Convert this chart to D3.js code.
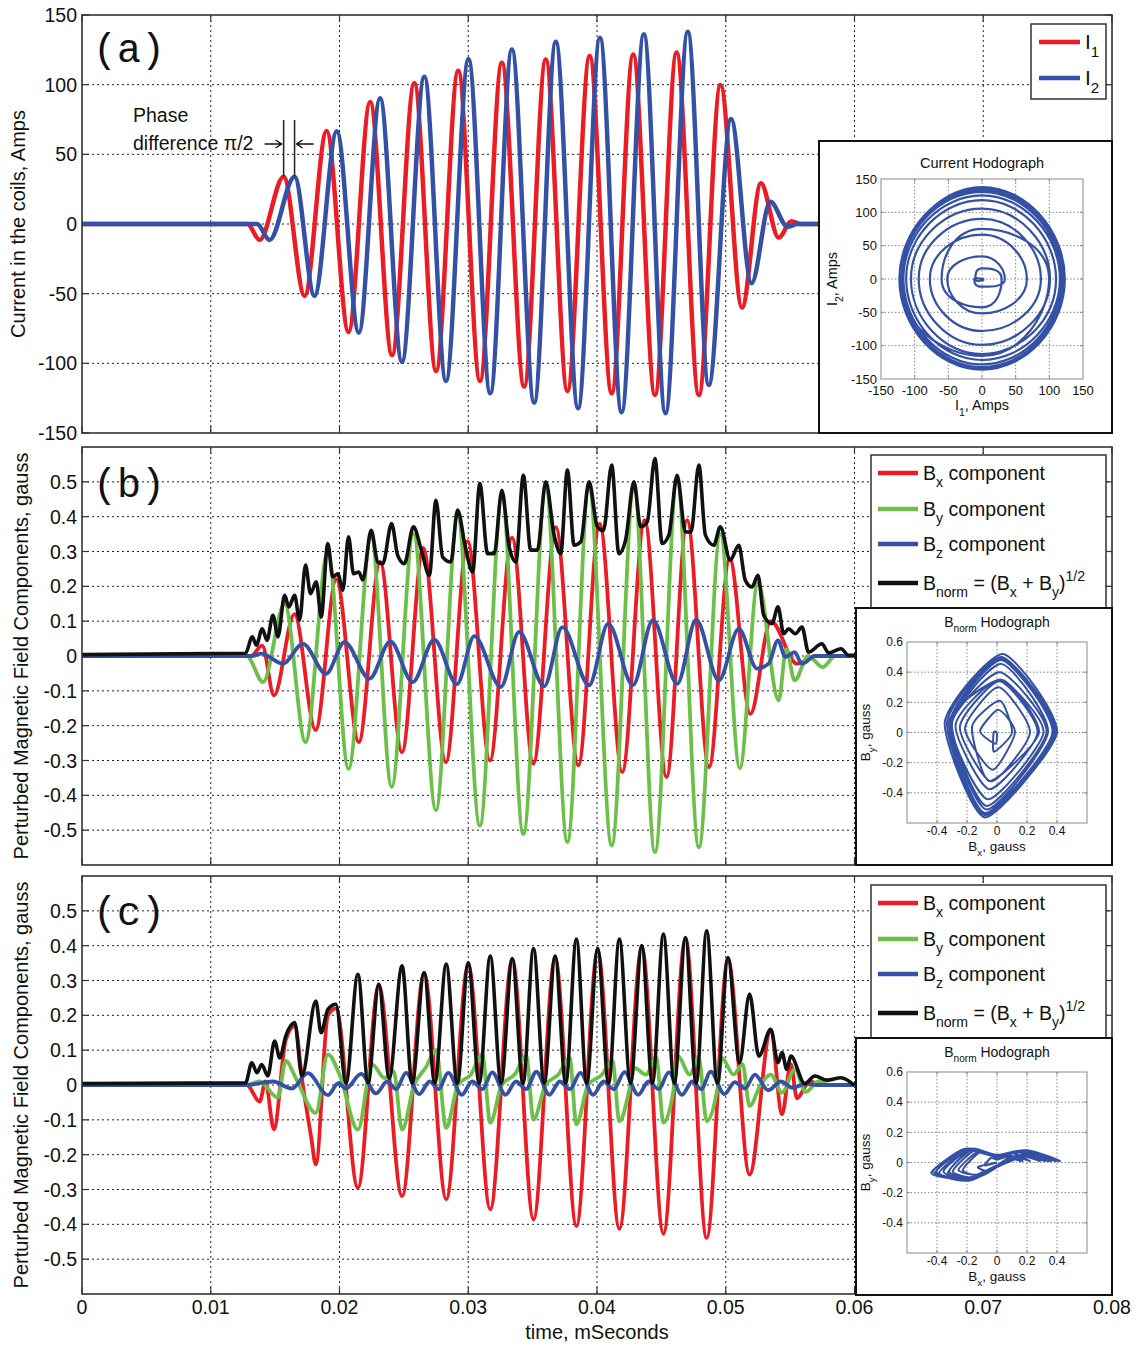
<!DOCTYPE html>
<html>
<head>
<meta charset="utf-8">
<script src="https://cdn.jsdelivr.net/npm/d3@7"></script>
<style>
  body { margin: 0; background: #fff; }
  svg { display: block; }
  text { font-family: "Liberation Sans", Arial, Helvetica, sans-serif; fill: #111; }
</style>
</head>
<body>
<svg id="chart" width="1141" height="1346"></svg>
<script>
// ---------- axis ticks ----------
const timeTicks = [0, 0.01, 0.02, 0.03, 0.04, 0.05, 0.06, 0.07, 0.08];
const timeTickLabels = ["0", "0.01", "0.02", "0.03", "0.04", "0.05", "0.06", "0.07", "0.08"];
const currentTicks = [-150, -100, -50, 0, 50, 100, 150];
const currentTickLabels = ["-150", "-100", "-50", "0", "50", "100", "150"];
const fieldTicks = [-0.5, -0.4, -0.3, -0.2, -0.1, 0, 0.1, 0.2, 0.3, 0.4, 0.5];
const fieldTickLabels = ["-0.5", "-0.4", "-0.3", "-0.2", "-0.1", "0", "0.1", "0.2", "0.3", "0.4", "0.5"];
const hodoCurrentTicks = [-150, -100, -50, 0, 50, 100, 150];
const hodoCurrentTickLabels = ["-150", "-100", "-50", "0", "50", "100", "150"];
const hodoFieldXTicks = [-0.4, -0.2, 0, 0.2, 0.4];
const hodoFieldXTickLabels = ["-0.4", "-0.2", "0", "0.2", "0.4"];
const hodoFieldYTicks = [-0.4, -0.2, 0, 0.2, 0.4, 0.6];
const hodoFieldYTickLabels = ["-0.4", "-0.2", "0", "0.2", "0.4", "0.6"];

// ---------- (a) coil currents: [time ms, Amps] at turning points ----------
const current1 = [
  [0, 0], [0.01285, 0], [0.0138, -11.5], [0.01566, 34], [0.01729, -51.6], [0.019, 66.7],
  [0.0207, -77.5], [0.02238, 87.5], [0.02408, -94], [0.02581, 101], [0.0275, -105.5],
  [0.02922, 110], [0.03091, -112.6], [0.03261, 115.7], [0.03434, -116.7], [0.03602, 118],
  [0.0377, -119.8], [0.03943, 120.5], [0.04114, -121.5], [0.04281, 121.7], [0.0445, -122.7],
  [0.04618, 123], [0.04791, -122.7], [0.04959, 99.7], [0.05126, -60], [0.05273, 29.2],
  [0.05411, -9.8], [0.0551, 2], [0.0558, 0], [0.066, 0]
];
const current2 = [
  [0, 0], [0.0136, 0], [0.01457, -11.5], [0.01651, 34], [0.01806, -51.6], [0.01979, 66.5],
  [0.0215, -78], [0.02315, 90.2], [0.02485, -98.8], [0.02659, 105.7], [0.02827, -112.6],
  [0.03002, 118.2], [0.03171, -121.5], [0.03339, 125.3], [0.03512, -128.2], [0.0368, 130.8],
  [0.03853, -132.2], [0.04023, 133.7], [0.04191, -135.1], [0.04364, 136.1], [0.04532, -135.8],
  [0.04705, 138], [0.04868, -115.5], [0.05041, 75.3], [0.052, -42.5], [0.05346, 16],
  [0.0548, -2], [0.0556, 0], [0.066, 0]
];
// first peaks of I1 and I2, marked by the phase annotation
const phasePeakTimes = [0.01566, 0.01651];
const phasePeakValue = 34;

// ---------- (b) perturbed field components, gauss ----------
const bxB = [
  [0, 0], [0.0131, 0], [0.014, 0.03], [0.01491, -0.113], [0.0165, 0.12], [0.01814, -0.213],
  [0.01975, 0.22], [0.0215, -0.247], [0.02315, 0.27], [0.02485, -0.276], [0.0265, 0.31],
  [0.02826, -0.305], [0.02995, 0.33], [0.03168, -0.3], [0.0334, 0.34], [0.03506, -0.309],
  [0.0368, 0.37], [0.03855, -0.314], [0.0402, 0.38], [0.04196, -0.333], [0.0437, 0.39],
  [0.0454, -0.348], [0.047, 0.39], [0.0487, -0.319], [0.0503, 0.28], [0.05191, -0.166],
  [0.0535, 0.1], [0.05553, -0.022], [0.057, 0], [0.06, 0]
];
const byB = [
  [0, 0], [0.0128, 0], [0.01406, -0.075], [0.01574, 0.15], [0.01736, -0.247], [0.01909, 0.3],
  [0.0207, -0.324], [0.02246, 0.34], [0.02405, -0.376], [0.02574, 0.35], [0.02749, -0.443],
  [0.02917, 0.4], [0.0309, -0.487], [0.03261, 0.455], [0.03428, -0.511], [0.03602, 0.48],
  [0.0377, -0.534], [0.03938, 0.48], [0.04114, -0.544], [0.04287, 0.48], [0.0445, -0.563],
  [0.04622, 0.5], [0.04791, -0.549], [0.04958, 0.35], [0.05109, -0.322], [0.0525, 0.21],
  [0.05411, -0.127], [0.0547, 0.02], [0.05535, -0.07], [0.0564, 0], [0.05752, -0.032],
  [0.0585, 0], [0.06, 0]
];
const bzB = [
  [0, 0], [0.0132, 0], [0.01393, 0.007], [0.0156, -0.022], [0.01716, 0.035], [0.01896, -0.051],
  [0.02039, 0.04], [0.02233, -0.065], [0.02395, 0.042], [0.02568, -0.075], [0.02736, 0.047],
  [0.02912, -0.081], [0.03047, 0.057], [0.03253, -0.089], [0.03395, 0.069], [0.0359, -0.087],
  [0.03731, 0.083], [0.03938, -0.084], [0.04087, 0.093], [0.04279, -0.084], [0.04434, 0.103],
  [0.04623, -0.08], [0.0477, 0.104], [0.04946, -0.07], [0.05101, 0.078], [0.05243, -0.036],
  [0.05333, -0.022], [0.05406, 0.045], [0.05463, -0.003], [0.05535, 0.011], [0.05592, -0.022],
  [0.05695, 0], [0.06, 0]
];
const bnormB = [
  [0, 0.004], [0.0127, 0.008], [0.01323, 0.055], [0.01354, 0.031], [0.014, 0.078], [0.01437, 0.045],
  [0.01483, 0.117], [0.01522, 0.055], [0.01574, 0.174], [0.01607, 0.141], [0.01651, 0.174],
  [0.0169, 0.103], [0.01736, 0.261], [0.01775, 0.179], [0.01819, 0.213], [0.01858, 0.112],
  [0.01909, 0.323], [0.01948, 0.227], [0.01987, 0.236], [0.02026, 0.189], [0.0207, 0.342],
  [0.02109, 0.236], [0.0215, 0.241], [0.02181, 0.218], [0.02246, 0.361], [0.02297, 0.27],
  [0.02336, 0.265], [0.02405, 0.38], [0.02452, 0.289], [0.02504, 0.265], [0.02574, 0.371],
  [0.02633, 0.308], [0.02698, 0.232], [0.02749, 0.447], [0.02801, 0.284], [0.02865, 0.27],
  [0.02917, 0.419], [0.02977, 0.313], [0.03034, 0.241], [0.0309, 0.495], [0.0315, 0.294],
  [0.03202, 0.294], [0.03261, 0.476], [0.03318, 0.313], [0.0337, 0.27], [0.03428, 0.519],
  [0.03485, 0.304], [0.03537, 0.304], [0.03602, 0.5], [0.03667, 0.347], [0.03718, 0.294],
  [0.0377, 0.534], [0.03822, 0.318], [0.03874, 0.328], [0.03938, 0.5], [0.04003, 0.371],
  [0.0405, 0.36], [0.04114, 0.548], [0.0417, 0.294], [0.04222, 0.333], [0.04287, 0.5],
  [0.04339, 0.371], [0.0439, 0.385], [0.0445, 0.567], [0.04506, 0.323], [0.04558, 0.347],
  [0.04622, 0.519], [0.04687, 0.356], [0.0473, 0.356], [0.04791, 0.548], [0.04842, 0.347],
  [0.04907, 0.318], [0.04958, 0.371], [0.05035, 0.275], [0.05101, 0.318], [0.05152, 0.217],
  [0.05204, 0.198], [0.0525, 0.232], [0.05295, 0.117], [0.05359, 0.093], [0.05406, 0.141],
  [0.0545, 0.064], [0.05488, 0.078], [0.0554, 0.064], [0.05592, 0.083], [0.05643, 0.011],
  [0.05747, 0.035], [0.05798, 0.009], [0.05896, 0.021], [0.05953, 0.002], [0.06, 0.002]
];

// ---------- (c) perturbed field components, gauss ----------
const bxC = [
  [0, 0], [0.0128, 0], [0.0138, -0.048], [0.01425, 0.01], [0.0149, -0.127], [0.01583, 0.13],
  [0.01652, 0.17], [0.01715, 0.0], [0.0178, -0.15], [0.01816, -0.228], [0.0191, 0.2],
  [0.01972, 0.22], [0.02143, -0.295], [0.02305, 0.285], [0.02486, -0.319], [0.02657, 0.32],
  [0.02829, -0.328], [0.03, 0.345], [0.03171, -0.357], [0.03342, 0.36], [0.03507, -0.386],
  [0.03675, 0.365], [0.0384, -0.405], [0.04005, 0.385], [0.04174, -0.413], [0.04348, 0.395],
  [0.04516, -0.427], [0.04687, 0.42], [0.04852, -0.439], [0.05017, 0.36], [0.05185, -0.257],
  [0.0535, 0.155], [0.05437, -0.084], [0.05505, 0.06], [0.05553, -0.038], [0.0565, 0.01],
  [0.0575, 0], [0.06, 0]
];
const byC = [
  [0, 0], [0.0128, 0], [0.0138, 0.01], [0.01521, -0.036], [0.01583, 0.069], [0.0166, 0.02],
  [0.01816, -0.08], [0.0191, 0.088], [0.02, 0.03], [0.02143, -0.128], [0.02253, 0.059],
  [0.0235, 0.02], [0.0242, 0.04], [0.02486, -0.128], [0.0258, 0.0], [0.0267, 0.05],
  [0.0275, 0.1], [0.02829, -0.123], [0.0292, 0.0], [0.0302, 0.03], [0.03109, 0.088],
  [0.03171, -0.108], [0.0326, 0.0], [0.0336, 0.03], [0.03451, 0.083], [0.03507, -0.099],
  [0.036, 0.0], [0.037, 0.03], [0.03788, 0.078], [0.0384, -0.113], [0.0393, 0.0],
  [0.0404, 0.03], [0.0412, 0.07], [0.04174, -0.104], [0.0426, 0.0], [0.04291, 0.049],
  [0.0438, 0.03], [0.0446, 0.08], [0.04516, -0.108], [0.046, 0.0], [0.04628, 0.083],
  [0.0472, 0.03], [0.0479, 0.078], [0.04852, -0.104], [0.0494, 0.0], [0.0497, 0.078],
  [0.0506, 0.03], [0.0513, 0.06], [0.05185, -0.06], [0.0527, 0.0], [0.0535, 0.03],
  [0.05437, -0.022], [0.05537, 0.045], [0.0562, -0.02], [0.0572, 0.01], [0.058, 0], [0.06, 0]
];
const bzC = [
  [0, 0], [0.0128, 0], [0.01483, 0.01], [0.0163, -0.01], [0.01754, 0.034], [0.0191, -0.029],
  [0.0199, 0.005], [0.0205, -0.01], [0.02168, 0.032], [0.02284, -0.024], [0.0237, 0.01],
  [0.0244, -0.012], [0.02517, 0.035], [0.0262, -0.026], [0.027, 0.01], [0.0277, -0.012],
  [0.02844, 0.035], [0.0295, -0.028], [0.0303, 0.01], [0.0311, -0.012], [0.03186, 0.036],
  [0.0329, -0.028], [0.0337, 0.01], [0.0345, -0.012], [0.03529, 0.038], [0.0363, -0.028],
  [0.0371, 0.01], [0.0379, -0.012], [0.03871, 0.035], [0.0397, -0.028], [0.0405, 0.01],
  [0.0413, -0.012], [0.04214, 0.037], [0.0432, -0.028], [0.044, 0.01], [0.0448, -0.012],
  [0.04557, 0.036], [0.0466, -0.028], [0.0474, 0.01], [0.0481, -0.012], [0.04883, 0.038],
  [0.0499, -0.026], [0.0507, 0.008], [0.0515, -0.01], [0.05226, 0.03], [0.0533, -0.015],
  [0.0543, 0.01], [0.0552, -0.008], [0.0562, 0.004], [0.057, 0], [0.06, 0]
];
const bnormC = [
  [0, 0.004], [0.0127, 0.006], [0.01319, 0.064], [0.01359, 0.035], [0.01396, 0.059],
  [0.01443, 0.026], [0.01496, 0.126], [0.01536, 0.078], [0.01583, 0.141], [0.01652, 0.179],
  [0.01708, 0.026], [0.01816, 0.241], [0.01857, 0.15], [0.0191, 0.217], [0.01972, 0.232],
  [0.0205, 0.005], [0.02143, 0.318], [0.02222, 0.007], [0.02305, 0.289], [0.02386, 0.02],
  [0.02486, 0.342], [0.02564, 0.005], [0.02657, 0.323], [0.0274, 0.006], [0.02829, 0.347],
  [0.02915, 0.005], [0.03, 0.351], [0.03085, 0.005], [0.03171, 0.37], [0.03255, 0.005],
  [0.03342, 0.363], [0.03425, 0.005], [0.03507, 0.392], [0.0359, 0.005], [0.03675, 0.37],
  [0.03757, 0.005], [0.0384, 0.419], [0.0392, 0.005], [0.04005, 0.392], [0.0409, 0.005],
  [0.04174, 0.419], [0.0426, 0.005], [0.04348, 0.4], [0.0443, 0.005], [0.04516, 0.433],
  [0.046, 0.005], [0.04687, 0.423], [0.0477, 0.005], [0.04852, 0.443], [0.04935, 0.005],
  [0.05017, 0.366], [0.05107, 0.064], [0.05185, 0.261], [0.05257, 0.083], [0.0535, 0.16],
  [0.05406, 0.064], [0.05437, 0.093], [0.05474, 0.045], [0.05505, 0.083], [0.05614, 0.004],
  [0.05692, 0.026], [0.05786, 0.014], [0.05895, 0.021], [0.0599, 0.002]
];

// ---------- hodograph traces [Bx, By], gauss ----------
const hodoB = [
  [0, 0],
  [-0.01, -0.075], [-0.113, 0.01], [0.01, 0.15], [0.12, 0.0],
  [-0.03, -0.247], [-0.213, 0.03], [0.01, 0.3], [0.22, 0.0],
  [-0.04, -0.324], [-0.247, 0.04], [0.02, 0.34], [0.27, 0.0],
  [-0.05, -0.376], [-0.276, 0.05], [0.02, 0.35], [0.31, 0.0],
  [-0.06, -0.443], [-0.305, 0.05], [0.02, 0.4], [0.33, 0.0],
  [-0.07, -0.487], [-0.3, 0.06], [0.03, 0.455], [0.34, 0.0],
  [-0.07, -0.511], [-0.309, 0.06], [0.03, 0.48], [0.37, 0.0],
  [-0.08, -0.534], [-0.314, 0.07], [0.03, 0.49], [0.38, 0.0],
  [-0.08, -0.544], [-0.333, 0.07], [0.03, 0.5], [0.39, 0.0],
  [-0.08, -0.563], [-0.348, 0.07], [0.04, 0.52], [0.4, 0.0],
  [-0.08, -0.549], [-0.319, 0.07], [0.03, 0.35], [0.28, 0.0],
  [-0.05, -0.322], [-0.166, 0.04], [0.02, 0.21], [0.1, 0.0],
  [-0.02, -0.127], [-0.022, 0.0], [0, 0]
];
const hodoC = [
  [0, 0],
  [-0.127, -0.03], [-0.06, -0.06], [0, -0.02], [0.08, 0.03], [0.17, 0.01], [0.08, 0.05], [0, 0.03], [-0.11, 0.07],
  [-0.228, -0.05], [-0.11, -0.09], [0, -0.03], [0.11, 0.04], [0.22, 0.01], [0.11, 0.06], [0, 0.04], [-0.15, 0.08],
  [-0.295, -0.06], [-0.15, -0.1], [0, -0.03], [0.14, 0.05], [0.285, 0.01], [0.14, 0.07], [0, 0.04], [-0.16, 0.09],
  [-0.319, -0.06], [-0.16, -0.11], [0, -0.03], [0.16, 0.05], [0.32, 0.01], [0.16, 0.07], [0, 0.04], [-0.17, 0.09],
  [-0.328, -0.07], [-0.17, -0.11], [0, -0.02], [0.17, 0.05], [0.345, 0.01], [0.17, 0.08], [0, 0.05], [-0.18, 0.09],
  [-0.357, -0.06], [-0.18, -0.12], [0, -0.03], [0.18, 0.05], [0.36, 0.01], [0.18, 0.08], [0, 0.04], [-0.19, 0.09],
  [-0.386, -0.07], [-0.19, -0.11], [0, -0.02], [0.18, 0.05], [0.365, 0.02], [0.19, 0.08], [0, 0.05], [-0.2, 0.09],
  [-0.405, -0.06], [-0.2, -0.12], [0, -0.03], [0.19, 0.05], [0.385, 0.01], [0.2, 0.08], [0, 0.04], [-0.21, 0.09],
  [-0.413, -0.07], [-0.21, -0.11], [0, -0.02], [0.2, 0.05], [0.395, 0.01], [0.2, 0.08], [0, 0.04], [-0.21, 0.08],
  [-0.427, -0.06], [-0.21, -0.12], [0, -0.03], [0.21, 0.05], [0.42, 0.01], [0.21, 0.08], [0, 0.05], [-0.22, 0.09],
  [-0.439, -0.07], [-0.22, -0.11], [0, -0.02], [0.18, 0.05], [0.36, 0.01], [0.18, 0.07], [0, 0.04], [-0.13, 0.07],
  [-0.257, -0.05], [-0.13, -0.08], [0, -0.02], [0.08, 0.03], [0.155, 0.01], [0.08, 0.04], [0, 0.02], [-0.04, 0.03],
  [-0.084, -0.02], [0, 0]
];

// ---------- colours ----------
const RED = "#ec1c24", BLUE = "#3451a6", GREEN = "#6cc04a", BLACK = "#111111";

const svg = d3.select("#chart");
const FS = 19.5;
const plotLeft = 82, plotRight = 1112;
const x = d3.scaleLinear().domain([0, 0.08]).range([plotLeft, plotRight]);

let clipId = 0;
function clipRect(x0, y0, x1, y1) {
  const id = "clip" + (clipId++);
  svg.append("clipPath").attr("id", id).append("rect")
    .attr("x", x0).attr("y", y0).attr("width", x1 - x0).attr("height", y1 - y0);
  return "url(#" + id + ")";
}

// text with sub/superscript segments: parts = [[str, "sub"|"sup"|null], ...]
function richText(g, px, py, parts, size, anchor, transform) {
  const t = g.append("text").attr("x", px).attr("y", py)
    .attr("font-size", size).attr("text-anchor", anchor || "start");
  if (transform) t.attr("transform", transform);
  let shift = 0;
  parts.forEach(([s, kind]) => {
    const target = kind === "sub" ? size * 0.38 : kind === "sup" ? -size * 0.45 : 0;
    t.append("tspan").attr("dy", target - shift)
      .attr("font-size", kind ? size * 0.72 : size).text(s);
    shift = target;
  });
  return t;
}

function drawTimePanel(cfg) {
  const g = svg.append("g");
  const y = d3.scaleLinear().domain(cfg.domain).range([cfg.bottom, cfg.top]);
  // grid
  const grid = g.append("g").attr("stroke", "#222").attr("stroke-width", 1)
    .attr("stroke-dasharray", "2,3");
  timeTicks.slice(1, -1).forEach(t => {
    grid.append("line").attr("x1", x(t)).attr("x2", x(t)).attr("y1", cfg.top).attr("y2", cfg.bottom);
  });
  cfg.ticks.forEach(v => {
    if (v <= cfg.domain[0] || v >= cfg.domain[1]) return;
    grid.append("line").attr("x1", plotLeft).attr("x2", plotRight).attr("y1", y(v)).attr("y2", y(v));
  });
  // inward ticks
  const tk = g.append("g").attr("stroke", "#333").attr("stroke-width", 1.2);
  cfg.ticks.forEach(v => {
    tk.append("line").attr("x1", plotLeft).attr("x2", plotLeft + 7).attr("y1", y(v)).attr("y2", y(v));
    tk.append("line").attr("x1", plotRight - 7).attr("x2", plotRight).attr("y1", y(v)).attr("y2", y(v));
  });
  timeTicks.forEach(t => {
    tk.append("line").attr("x1", x(t)).attr("x2", x(t)).attr("y1", cfg.bottom).attr("y2", cfg.bottom - 7);
    tk.append("line").attr("x1", x(t)).attr("x2", x(t)).attr("y1", cfg.top).attr("y2", cfg.top + 7);
  });
  // tick labels
  cfg.ticks.forEach((v, i) => {
    g.append("text").attr("x", 77).attr("y", y(v) + 7).attr("text-anchor", "end")
      .attr("font-size", FS).text(cfg.tickLabels[i]);
  });
  if (cfg.showX) {
    timeTicks.forEach((t, i) => {
      g.append("text").attr("x", x(t)).attr("y", cfg.bottom + 20).attr("text-anchor", "middle")
        .attr("font-size", FS).text(timeTickLabels[i]);
    });
  }
  // series
  const clip = clipRect(plotLeft, cfg.top, plotRight, cfg.bottom);
  const sg = g.append("g").attr("clip-path", clip);
  const line = d3.line().x(d => x(d[0])).y(d => y(d[1])).curve(d3.curveMonotoneX);
  cfg.series.forEach(s => {
    sg.append("path").datum(s.data).attr("d", line).attr("fill", "none")
      .attr("stroke", s.color).attr("stroke-width", s.width)
      .attr("stroke-linejoin", "round").attr("stroke-linecap", "round");
  });
  // frame
  g.append("rect").attr("x", plotLeft).attr("y", cfg.top).attr("width", plotRight - plotLeft)
    .attr("height", cfg.bottom - cfg.top).attr("fill", "none").attr("stroke", "#333").attr("stroke-width", 1.6);
  // panel letter
  g.append("text").attr("x", 93).attr("y", cfg.top + cfg.letterDy)
    .style("font-family", "'Liberation Mono', 'Courier New', monospace")
    .attr("font-size", 40).text(cfg.letter);
  // y title
  g.append("text").attr("transform", `translate(${cfg.titleX},${(cfg.top + cfg.bottom) / 2}) rotate(-90)`)
    .attr("text-anchor", "middle").attr("font-size", 20).text(cfg.title);
  return { g, y };
}

function drawInset(cfg) {
  const g = svg.append("g");
  g.append("rect").attr("x", cfg.box[0]).attr("y", cfg.box[1])
    .attr("width", cfg.box[2] - cfg.box[0]).attr("height", cfg.box[3] - cfg.box[1])
    .attr("fill", "#fff").attr("stroke", "#111").attr("stroke-width", 2);
  const [px0, py0, px1, py1] = cfg.plot;
  const hx = d3.scaleLinear().domain(cfg.xDomain).range([px0, px1]);
  const hy = d3.scaleLinear().domain(cfg.yDomain).range([py1, py0]);
  const grid = g.append("g").attr("stroke", "#666").attr("stroke-width", 0.8).attr("stroke-dasharray", "1.5,2");
  cfg.gridX.forEach(v => grid.append("line").attr("x1", hx(v)).attr("x2", hx(v)).attr("y1", py0).attr("y2", py1));
  cfg.gridY.forEach(v => grid.append("line").attr("x1", px0).attr("x2", px1).attr("y1", hy(v)).attr("y2", hy(v)));
  const tk = g.append("g").attr("stroke", "#777").attr("stroke-width", 0.8);
  cfg.gridX.forEach(v => {
    tk.append("line").attr("x1", hx(v)).attr("x2", hx(v)).attr("y1", py1).attr("y2", py1 - 3);
    tk.append("line").attr("x1", hx(v)).attr("x2", hx(v)).attr("y1", py0).attr("y2", py0 + 3);
  });
  cfg.gridY.forEach(v => {
    tk.append("line").attr("x1", px0).attr("x2", px0 + 3).attr("y1", hy(v)).attr("y2", hy(v));
    tk.append("line").attr("x1", px1 - 3).attr("x2", px1).attr("y1", hy(v)).attr("y2", hy(v));
  });
  const clip = clipRect(px0, py0, px1, py1);
  g.append("g").attr("clip-path", clip).append("path").datum(cfg.trace)
    .attr("d", d3.line().x(d => hx(d[0])).y(d => hy(d[1])).curve(cfg.curve))
    .attr("fill", "none").attr("stroke", BLUE).attr("stroke-width", cfg.lineWidth)
    .attr("stroke-linejoin", "round");
  g.append("rect").attr("x", px0).attr("y", py0).attr("width", px1 - px0).attr("height", py1 - py0)
    .attr("fill", "none").attr("stroke", "#8a8a8a").attr("stroke-width", 1);
  cfg.xTicks.forEach((v, i) => {
    g.append("text").attr("x", hx(v)).attr("y", py1 + cfg.xTickDy).attr("text-anchor", "middle")
      .attr("font-size", cfg.fs).text(cfg.xTickLabels[i]);
  });
  cfg.yTicks.forEach((v, i) => {
    g.append("text").attr("x", px0 - 4).attr("y", hy(v) + cfg.fs * 0.36).attr("text-anchor", "end")
      .attr("font-size", cfg.fs).text(cfg.yTickLabels[i]);
  });
  richText(g, (px0 + px1) / 2, cfg.titleY, cfg.title, cfg.titleFs, "middle");
  richText(g, (px0 + px1) / 2, cfg.xLabelY, cfg.xLabel, cfg.labelFs, "middle");
  richText(g, 0, 0, cfg.yLabel, cfg.labelFs, "middle",
    `translate(${cfg.yLabelX},${(py0 + py1) / 2}) rotate(-90)`);
}

function drawLegend(box, entries, sampleX, fs) {
  const g = svg.append("g");
  g.append("rect").attr("x", box[0]).attr("y", box[1]).attr("width", box[2] - box[0])
    .attr("height", box[3] - box[1]).attr("fill", "#fff").attr("stroke", "#333").attr("stroke-width", 1.5);
  entries.forEach(e => {
    g.append("line").attr("x1", sampleX[0]).attr("x2", sampleX[1]).attr("y1", e.y).attr("y2", e.y)
      .attr("stroke", e.color).attr("stroke-width", 4.5);
    richText(g, sampleX[1] + 5, e.y + 7, e.parts, fs, "start");
  });
}

// horizontal arrow with an open head, pointing from xa to xb
function arrow(g, xa, xb, yy) {
  const dir = Math.sign(xb - xa);
  g.append("path")
    .attr("d", `M${xa},${yy}H${xb}M${xb - dir * 6},${yy - 4}L${xb},${yy}L${xb - dir * 6},${yy + 4}`)
    .attr("fill", "none").attr("stroke", "#111").attr("stroke-width", 1.4);
}

// ---------- panel (a) ----------
const pa = drawTimePanel({
  top: 15, bottom: 433, domain: [-150, 150], ticks: currentTicks, tickLabels: currentTickLabels,
  showX: false, letter: "(a)", letterDy: 47, titleX: 25, title: "Current in the coils, Amps",
  series: [{ data: current1, color: RED, width: 4.5 }, { data: current2, color: BLUE, width: 4.5 }]
});

// phase annotation
phasePeakTimes.forEach(t => {
  pa.g.append("line").attr("x1", x(t)).attr("x2", x(t)).attr("y1", 120).attr("y2", pa.y(phasePeakValue))
    .attr("stroke", "#222").attr("stroke-width", 1.5);
});
pa.g.append("text").attr("x", 133).attr("y", 122).attr("font-size", FS).text("Phase");
pa.g.append("text").attr("x", 133).attr("y", 150).attr("font-size", FS).text("difference \u03c0/2");
arrow(pa.g, x(phasePeakTimes[0]) - 19, x(phasePeakTimes[0]) - 2, 144);
arrow(pa.g, x(phasePeakTimes[1]) + 19, x(phasePeakTimes[1]) + 2, 144);

drawLegend([1031, 24, 1106, 99], [
  { y: 42, color: RED, parts: [["I", null], ["1", "sub"]] },
  { y: 78, color: BLUE, parts: [["I", null], ["2", "sub"]] }
], [1039, 1080], 21);

// hodograph built from the current turning points, in time order
const currentHodo = [[0, 0]].concat(
  current1.filter(d => d[1] !== 0).map(d => [d[0], d[1], 0])
    .concat(current2.filter(d => d[1] !== 0).map(d => [d[0], 0, d[1]]))
    .sort((a, b) => a[0] - b[0]).map(d => [d[1], d[2]]),
  [[0, 0]]
);

drawInset({
  box: [819, 141, 1112, 433], plot: [881, 179, 1083, 379],
  xDomain: [-150, 150], yDomain: [-150, 150],
  gridX: [-100, -50, 0, 50, 100], gridY: [-100, -50, 0, 50, 100],
  xTicks: hodoCurrentTicks, xTickLabels: hodoCurrentTickLabels, xTickDy: 16,
  yTicks: hodoCurrentTicks, yTickLabels: hodoCurrentTickLabels, fs: 13,
  trace: currentHodo, curve: d3.curveCardinal.tension(-0.6), lineWidth: 2.2,
  title: [["Current Hodograph", null]], titleY: 168, titleFs: 14.5,
  xLabel: [["I", null], ["1", "sub"], [", Amps", null]], xLabelY: 410, labelFs: 14.5,
  yLabel: [["I", null], ["2", "sub"], [", Amps", null]], yLabelX: 837
});

// ---------- panel (b) ----------
drawTimePanel({
  top: 447, bottom: 865, domain: [-0.6, 0.6], ticks: fieldTicks, tickLabels: fieldTickLabels,
  showX: false, letter: "(b)", letterDy: 50, titleX: 28,
  title: "Perturbed Magnetic Field Components, gauss",
  series: [
    { data: bxB, color: RED, width: 3.8 }, { data: byB, color: GREEN, width: 3.8 },
    { data: bzB, color: BLUE, width: 3.8 }, { data: bnormB, color: BLACK, width: 3.6 }
  ]
});

// ---------- panel (c) ----------
drawTimePanel({
  top: 876, bottom: 1294, domain: [-0.6, 0.6], ticks: fieldTicks, tickLabels: fieldTickLabels,
  showX: true, letter: "(c)", letterDy: 49, titleX: 28,
  title: "Perturbed Magnetic Field Components, gauss",
  series: [
    { data: bxC, color: RED, width: 3.8 }, { data: byC, color: GREEN, width: 3.8 },
    { data: bzC, color: BLUE, width: 3.8 }, { data: bnormC, color: BLACK, width: 3.6 }
  ]
});

svg.append("text").attr("x", (plotLeft + plotRight) / 2).attr("y", 1339).attr("text-anchor", "middle")
  .attr("font-size", 20).text("time, mSeconds");

// legends and hodographs for (b) and (c)
const fieldLegend = dy => [
  { y: 473 + dy, color: RED, parts: [["B", null], ["x", "sub"], [" component", null]] },
  { y: 509 + dy, color: GREEN, parts: [["B", null], ["y", "sub"], [" component", null]] },
  { y: 544 + dy, color: BLUE, parts: [["B", null], ["z", "sub"], [" component", null]] },
  { y: 583 + dy, color: BLACK, parts: [["B", null], ["norm", "sub"], [" = (B", null], ["x", "sub"],
      [" + B", null], ["y", "sub"], [")", null], ["1/2", "sup"]] }
];
[[0, hodoB], [430, hodoC]].forEach(([dy, trace]) => {
  drawLegend([871, 455 + dy, 1106, 620 + dy], fieldLegend(dy), [878, 918], 19.5);
  drawInset({
    box: [856, 608 + dy, 1112, 865 + dy], plot: [907, 642 + dy, 1087, 823 + dy],
    xDomain: [-0.6, 0.6], yDomain: [-0.6, 0.6],
    gridX: [-0.4, -0.2, 0, 0.2, 0.4], gridY: [-0.4, -0.2, 0, 0.2, 0.4],
    xTicks: hodoFieldXTicks, xTickLabels: hodoFieldXTickLabels, xTickDy: 12,
    yTicks: hodoFieldYTicks, yTickLabels: hodoFieldYTickLabels, fs: 12,
    trace: trace, curve: d3.curveCardinal.tension(0.35), lineWidth: 2,
    title: [["B", null], ["norm", "sub"], [" Hodograph", null]], titleY: 627 + dy, titleFs: 14,
    xLabel: [["B", null], ["x", "sub"], [", gauss", null]], xLabelY: 851 + dy, labelFs: 13.5,
    yLabel: [["B", null], ["y", "sub"], [", gauss", null]], yLabelX: 870
  });
});
</script>
</body>
</html>
